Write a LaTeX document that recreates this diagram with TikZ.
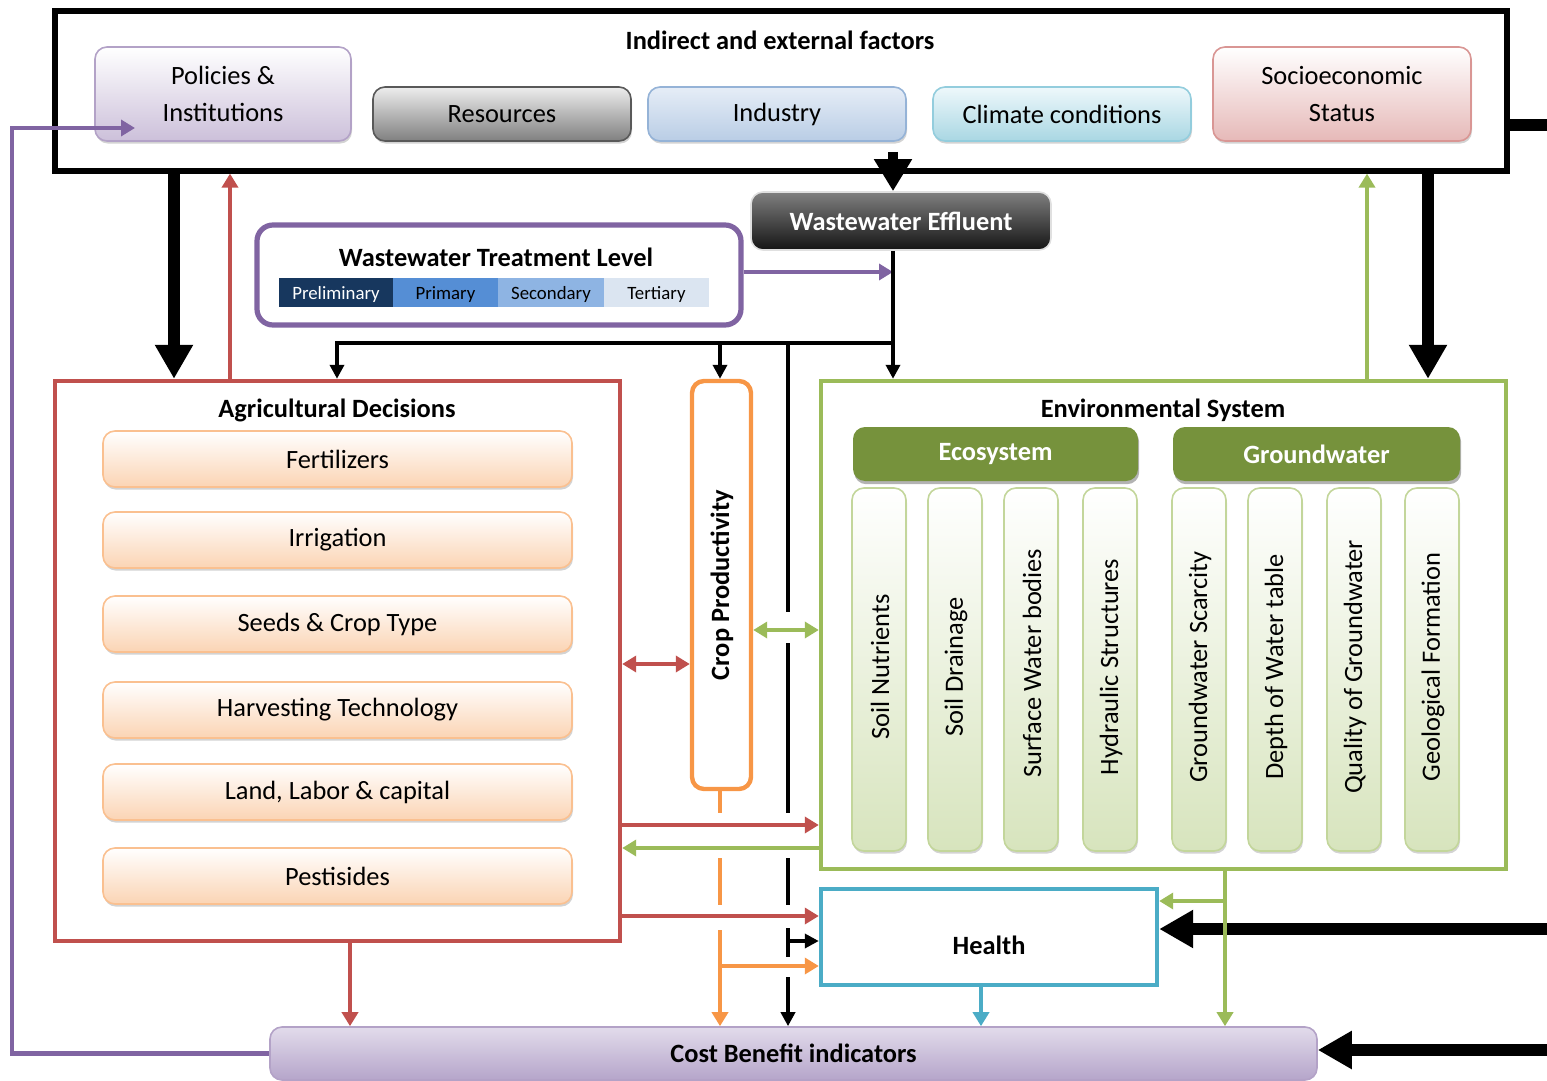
\documentclass[tikz,border=0pt]{standalone}
\usepackage{fontspec}
\setmainfont{Carlito}
\usetikzlibrary{arrows.meta,fit,shadows}
\definecolor{agred}{HTML}{C0504D}
\definecolor{envgreen}{HTML}{9BBB59}
\definecolor{cropor}{HTML}{F79646}
\definecolor{hblue}{HTML}{4BACC6}
\definecolor{wwpurple}{HTML}{8064A2}
\definecolor{polbd}{HTML}{B3A2C7}
\definecolor{polbot}{HTML}{CCC0DA}
\definecolor{resbd}{HTML}{595959}
\definecolor{indtop}{HTML}{E6EDF7}
\definecolor{indbot}{HTML}{B9CDE5}
\definecolor{indbd}{HTML}{95B3D7}
\definecolor{cltop}{HTML}{EEF8FB}
\definecolor{clbot}{HTML}{A9D7E3}
\definecolor{clbd}{HTML}{93CDDD}
\definecolor{sebot}{HTML}{E6B9B8}
\definecolor{sebd}{HTML}{D99694}
\definecolor{itbot}{HTML}{FBD4B4}
\definecolor{itbd}{HTML}{FAC090}
\definecolor{vibot}{HTML}{D7E4BD}
\definecolor{vibd}{HTML}{C3D69B}
\definecolor{ecodark}{HTML}{76923C}
\definecolor{ecomid}{HTML}{93B55D}
\definecolor{cbtop}{HTML}{E2DBEB}
\definecolor{cbbot}{HTML}{B5A5CA}
\definecolor{tlA}{HTML}{17375E}
\definecolor{tlB}{HTML}{558ED5}
\definecolor{tlC}{HTML}{8EB4E3}
\definecolor{tlD}{HTML}{DBE5F1}
\newcommand{\fntA}{\fontsize{13.2}{15}\selectfont}
\newcommand{\fntB}{\fontsize{9.4}{11}\selectfont}
\newcommand{\fntC}{\fontsize{13.2}{18.5}\selectfont}
\begin{document}
\begin{tikzpicture}[x=0.5pt,y=-0.5pt,
  softshadow/.style={drop shadow={opacity=0.35,shadow xshift=0.5pt,shadow yshift=-1.3pt}},
  txt/.style={label={[font=\fntA,align=center]center:#1}},
  btxt/.style={label={[font=\bfseries\fntA,align=center]center:#1}},
  wtxt/.style={label={[font=\bfseries\fntA,text=white]center:#1}},
  topbox/.style={rounded corners=6pt,line width=0.8pt,inner sep=0pt,softshadow},
  item/.style={draw=itbd,rounded corners=6pt,top color=white,bottom color=itbot,line width=0.8pt,inner sep=0pt,softshadow},
  vitem/.style={draw=vibd,rounded corners=6pt,top color=white,bottom color=vibot,line width=0.8pt,inner sep=0pt,softshadow},
  vtext/.style={rotate=90,font=\fntA},
  gbox/.style={rounded corners=6pt,top color=ecodark,middle color=ecomid,bottom color=ecodark,inner sep=0pt,drop shadow={opacity=0.6,shadow xshift=0.6pt,shadow yshift=-1.6pt}},
  ttl/.style={font=\bfseries\fntA},
  cell/.style={inner sep=0pt},
  ctxt/.style={label={[font=\fntB,yshift=-1pt]center:#1}},
  thin/.style={line width=2.2pt},
  tarr/.style={line width=2.2pt,-{Triangle[width=8pt,length=7pt]}},
  tdarr/.style={line width=2.2pt,{Triangle[width=8pt,length=7pt]}-{Triangle[width=8pt,length=7pt]}},
  barr/.style={line width=6pt,-{Triangle[width=18pt,length=17pt]}},
  karr/.style={line width=2pt,-{Triangle[width=7pt,length=7pt]}},
]
\useasboundingbox (0,0) rectangle (1547,1081);

% helper coordinates for connector x / y positions
\coordinate (c12) at (12,128);
\coordinate (c135) at (135,128);
\coordinate (c174) at (174,0);
\coordinate (c230) at (230,0);
\coordinate (c337) at (337,343);
\coordinate (c350) at (350,0);
\coordinate (c720) at (720,0);
\coordinate (c788) at (788,343);
\coordinate (c893) at (893,343);
\coordinate (c981) at (981,0);
\coordinate (c1225) at (1225,0);
\coordinate (c1367) at (1367,0);
\coordinate (c1428) at (1428,0);
\coordinate (eff0) at (893,152);

% ---------- top box ----------
\node[draw,line width=2.6pt,inner sep=0pt,fit={(55,11)(1507,171)}] (ext) {};
\node[ttl] (exttitle) at (780,40) {Indirect and external factors};
\node[topbox,draw=polbd,top color=white,bottom color=polbot,fit={(95,47)(351,141)},
  label={[font=\fntC,align=center]center:Policies \&\\Institutions}] (pol) {};
\node[topbox,draw=resbd,top color=white!93!black,bottom color=white!50!black,fit={(373,87)(631,141)},txt=Resources] (res) {};
\node[topbox,draw=indbd,top color=indtop,bottom color=indbot,fit={(648,87)(906,141)},txt=Industry] (ind) {};
\node[topbox,draw=clbd,top color=cltop,bottom color=clbot,fit={(933,87)(1191,141)},txt={Climate conditions}] (clim) {};
\node[topbox,draw=sebd,top color=white,bottom color=sebot,fit={(1213,47)(1471,141)},
  label={[font=\fntC,align=center]center:Socioeconomic\\Status}] (soc) {};

% ---------- effluent ----------
\node[rounded corners=6pt,draw=white!88!black,line width=0.8pt,top color=white!50!black,bottom color=white!8!black,inner sep=0pt,fit={(751,192)(1051,250)},wtxt={Wastewater Effluent}] (effl) {};

% ---------- treatment level ----------
\node[draw=wwpurple,line width=2.6pt,rounded corners=8pt,fill=white,inner sep=0pt,fit={(257,225)(741,325)}] (treat) {};
\node[ttl] (treattitle) at (496,257) {Wastewater Treatment Level};
\node[cell,fill=tlA,fit={(279,278)(393,307)},label={[font=\fntB,text=white,yshift=-1pt]center:Preliminary}] (prelim) {};
\node[cell,fill=tlB,fit={(393,278)(498,307)},ctxt=Primary] (prim) {};
\node[cell,fill=tlC,fit={(498,278)(604,307)},ctxt=Secondary] (sec) {};
\node[cell,fill=tlD,fit={(604,278)(709,307)},ctxt=Tertiary] (tert) {};

% ---------- agricultural decisions ----------
\node[draw=agred,line width=2.2pt,inner sep=0pt,fit={(55,381)(620,941)}] (ag) {};
\node[ttl] (agtitle) at (337,410) {Agricultural Decisions};
\node[item,fit={(103,431)(572,487)},txt=Fertilizers] (fert) {};
\node[item,fit={(103,512)(572,568)},txt=Irrigation] (irr) {};
\node[item,fit={(103,596)(572,652)},txt={Seeds \& Crop Type}] (seed) {};
\node[item,fit={(103,682)(572,738)},txt={Harvesting Technology}] (harv) {};
\node[item,fit={(103,764)(572,820)},txt={Land, Labor \& capital}] (land) {};
\node[item,fit={(103,848)(572,904)},txt=Pestisides] (pest) {};

% ---------- crop productivity ----------
\node[draw=cropor,line width=2.2pt,rounded corners=6pt,inner sep=0pt,fit={(692,381)(751,789)}] (crop) {};
\node[ttl,rotate=90] (croptext) at (722,585) {Crop Productivity};

% ---------- environmental system ----------
\node[draw=envgreen,line width=2.2pt,inner sep=0pt,fit={(821,381)(1506,869)}] (env) {};
\node[ttl] (envtitle) at (1163,410) {Environmental System};
\node[gbox,fit={(853,427)(1138,481)},wtxt=Ecosystem] (eco) {};
\node[gbox,fit={(1173,427)(1460,481)},wtxt=Groundwater] (gw) {};
\node[vitem,fit={(852,488)(906,851)}] (v1) {};
\node[vitem,fit={(928,488)(982,851)}] (v2) {};
\node[vitem,fit={(1004,488)(1058,851)}] (v3) {};
\node[vitem,fit={(1083,488)(1137,851)}] (v4) {};
\node[vitem,fit={(1172,488)(1226,851)}] (v5) {};
\node[vitem,fit={(1248,488)(1302,851)}] (v6) {};
\node[vitem,fit={(1327,488)(1381,851)}] (v7) {};
\node[vitem,fit={(1405,488)(1459,851)}] (v8) {};
\node[vtext] (t1) at (880,667) {Soil Nutrients};
\node[vtext] (t2) at (956,667) {Soil Drainage};
\node[vtext] (t3) at (1032,663) {Surface Water bodies};
\node[vtext] (t4) at (1111,667) {Hydraulic Structures};
\node[vtext] (t5) at (1200,667) {Groundwater Scarcity};
\node[vtext] (t6) at (1276,667) {Depth of Water table};
\node[vtext] (t7) at (1355,667) {Quality of Groundwater};
\node[vtext] (t8) at (1433,667) {Geological Formation};

% ---------- health & cost ----------
\node[draw=hblue,line width=2.2pt,inner sep=0pt,fit={(821,889)(1157,985)},
  label={[font=\bfseries\fntA,yshift=-4pt]center:Health}] (health) {};
\node[draw=polbd,line width=0.8pt,rounded corners=6pt,top color=cbtop,bottom color=cbbot,inner sep=0pt,fit={(270,1027)(1317,1080)},btxt={Cost Benefit indicators}] (cost) {};

% right-edge free ends
\coordinate (r1) at (1547,125);
\coordinate (r2) at (1547,929);
\coordinate (r3) at (1547,1050);

% ---------- connectors ----------
% thick black
\draw[barr] (ext.south -| c174) -- (ag.north -| c174);
\draw[barr] (ext.south -| c1428) -- (env.north -| c1428);
\draw[line width=5pt,-{Triangle[width=18pt,length=16pt]}] (eff0) -- (effl.north -| c893);
\draw[line width=6pt] (ext.east |- r1) -- (r1);
\draw[barr] (r2) -- (health.east |- r2);
\draw[barr] (r3) -- (cost.east |- r3);

% feedback to top box
\draw[tarr,agred] (ag.north -| c230) -- (ext.south -| c230);
\draw[tarr,envgreen] (env.north -| c1367) -- (ext.south -| c1367);

% treatment -> effluent line
\draw[tarr,wwpurple] (treat.east |- 0,272) -- (c893 |- 0,272);

% effluent distribution (black)
\draw[karr] (effl.south -| c893) -- (env.north -| c893);
\draw[karr] (c893) -| (ag.north -| c337);
\draw[karr] (c720 |- c893) -- (crop.north -| c720);
\draw[line width=2pt] (c788) -- (c788 |- 0,612);
\draw[line width=2pt] (c788 |- 0,643) -- (c788 |- 0,813);
\draw[line width=2pt] (c788 |- 0,858) -- (c788 |- 0,905);
\draw[line width=2pt] (c788 |- 0,928) -- (c788 |- 0,957);
\draw[karr] (c788 |- 0,941) -- (health.west |- 0,941);
\draw[karr] (c788 |- 0,977) -- (cost.north -| c788);

% crop productivity links
\draw[tdarr,agred] (ag.east |- 0,664) -- (crop.west |- 0,664);
\draw[tdarr,envgreen] (crop.east |- 0,630) -- (env.west |- 0,630);

% ag <-> env, ag -> health
\draw[tarr,agred] (ag.east |- 0,825) -- (env.west |- 0,825);
\draw[tarr,envgreen] (env.west |- 0,848) -- (ag.east |- 0,848);
\draw[tarr,agred] (ag.east |- 0,916) -- (health.west |- 0,916);

% orange from crop productivity
\draw[thin,cropor] (crop.south -| c720) -- (c720 |- 0,813);
\draw[thin,cropor] (c720 |- 0,858) -- (c720 |- 0,905);
\draw[tarr,cropor] (c720 |- 0,930) -- (cost.north -| c720);
\draw[tarr,cropor] (c720 |- 0,966) -- (health.west |- 0,966);

% to cost benefit
\draw[tarr,agred] (ag.south -| c350) -- (cost.north -| c350);
\draw[tarr,hblue] (health.south -| c981) -- (cost.north -| c981);
\draw[tarr,envgreen] (env.south -| c1225) -- (cost.north -| c1225);
\draw[tarr,envgreen] (c1225 |- 0,901) -- (health.east |- 0,901);

% cost benefit -> policies loop
\draw[tarr,wwpurple] (cost.west) -| (c12) -- (c135);
\end{tikzpicture}
\end{document}
